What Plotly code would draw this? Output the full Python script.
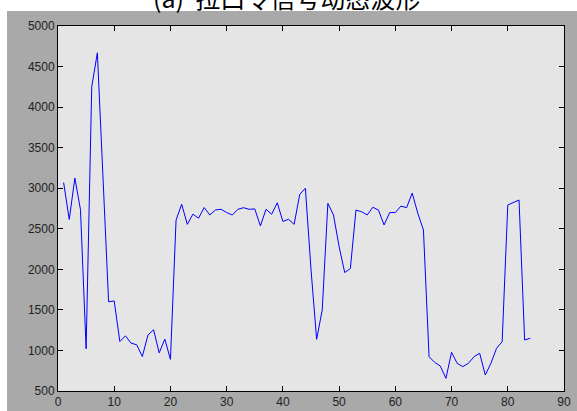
import plotly.graph_objects as go

# sample index 1..84
x_vals = list(range(1, 85))
y_vals = [
    3070, 2615, 3125, 2735, 1020, 4250, 4670, 3050, 1600, 1610,
    1110, 1180, 1090, 1070, 925, 1190, 1255, 970, 1140, 890,
    2608, 2802, 2555, 2680, 2630, 2762, 2670, 2732, 2740, 2700,
    2670, 2740, 2760, 2740, 2745, 2535, 2740, 2680, 2820, 2590,
    2617, 2555, 2925, 3000, 2000, 1137, 1500, 2814, 2670, 2280,
    1960, 2010, 2730, 2710, 2670, 2765, 2730, 2547, 2700, 2700,
    2780, 2760, 2940, 2690, 2485, 923, 853, 808, 656, 977,
    841, 800, 841, 923, 965, 697, 841, 1026, 1108, 2793,
    2820, 2855, 1129, 1150,
]
x_ticks = [0, 10, 20, 30, 40, 50, 60, 70, 80, 90]
y_ticks = [500, 1000, 1500, 2000, 2500, 3000, 3500, 4000, 4500, 5000]
title_text = "(a)  拉口令信号动态波形"

W, H = 577, 411
L, R, T, B = 58, 13, 26, 20
pw, ph = W - L - R, H - T - B

def px_x(p):
    return (p - L) / pw

def px_y(p):
    return (H - B - p) / ph

fig = go.Figure()
fig.add_trace(go.Scatter(x=x_vals, y=y_vals, mode="lines",
                         line=dict(color="#0000ff", width=1),
                         showlegend=False, hoverinfo="skip"))

axis_common = dict(showgrid=False, zeroline=False, showline=True, automargin=False,
                   linecolor="#000000", linewidth=1, mirror="ticks",
                   ticks="inside", ticklen=5, tickwidth=1, tickcolor="#000000",
                   tickfont=dict(family="Liberation Sans, Arial", size=12, color="#222222"))

fig.update_xaxes(range=[0, 90], tickvals=x_ticks, ticktext=[str(v) for v in x_ticks], **axis_common)
fig.update_yaxes(range=[500, 5000], tickvals=y_ticks, ticktext=[str(v) for v in y_ticks], **axis_common)

shapes = [
    dict(type="rect", xref="paper", yref="paper", x0=px_x(-5), x1=px_x(W + 5),
         y0=px_y(11), y1=px_y(-5), fillcolor="#ffffff", line=dict(width=0), layer="above"),
    dict(type="rect", xref="paper", yref="paper", x0=px_x(-5), x1=px_x(7),
         y0=px_y(H + 5), y1=px_y(-5), fillcolor="#ffffff", line=dict(width=0), layer="above"),
]

fig.update_layout(
    width=W, height=H,
    autosize=False,
    margin=dict(l=L, r=R, t=T, b=B, pad=0, autoexpand=False),
    paper_bgcolor="#a9a9a9",
    plot_bgcolor="#e5e5e5",
    shapes=shapes,
    annotations=[dict(text=title_text, xref="paper", yref="paper",
                      x=px_x(286), y=px_y(17), xanchor="center", yanchor="bottom",
                      showarrow=False,
                      font=dict(family="Noto Sans CJK SC", size=25, color="#000000"))],
)

fig.write_html("out.html",
               config={"displayModeBar": False, "staticPlot": True},
               post_script="document.body.style.margin='0';document.body.style.overflow='hidden';")
